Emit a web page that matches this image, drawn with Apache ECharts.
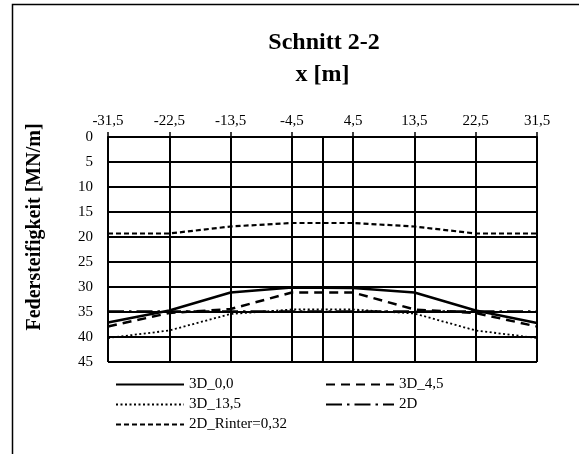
<!DOCTYPE html>
<html>
<head>
<meta charset="utf-8">
<script src="https://cdn.jsdelivr.net/npm/echarts@6/dist/echarts.min.js"></script>
<style>html,body{margin:0;padding:0;background:#fff;}#c{width:579px;height:454px;}</style>
</head>
<body>
<div id="c"></div>
<script>
var xs = [-31.5, -22.5, -13.5, -4.5, 4.5, 13.5, 22.5, 31.5];
var s3D_00 = [37.1, 34.7, 31.1, 30.1, 30.2, 31.1, 34.7, 37.2];
var s3D_45 = [37.9, 35.2, 34.4, 31.1, 31.1, 34.5, 35.2, 37.9];
var s3D_135 = [40.2, 38.7, 35.4, 34.5, 34.5, 35.3, 38.7, 40.2];
var s2D = [34.9, 34.9, 34.9, 34.9, 34.9, 34.9, 34.9, 34.9];
var s2D_R = [19.3, 19.3, 17.9, 17.2, 17.2, 17.9, 19.3, 19.3];
var names = ['3D_0,0', '3D_4,5', '3D_13,5', '2D', '2D_Rinter=0,32'];

var FONT = '"Liberation Serif", "Times New Roman", serif';
function pairs(v){ return xs.map(function(x,i){ return [x, v[i]]; }); }
function fmt(v){ return String(v).replace('.', ','); }

var styles = [
  {width: 2.5, type: 'solid'},
  {width: 2.5, type: [9, 6]},
  {width: 1.8, type: [2, 2.5]},
  {width: 2.5, type: [16, 5, 2.5, 5]},
  {width: 2.2, type: [5, 3]}
];
var vals = [s3D_00, s3D_45, s3D_135, s2D, s2D_R];

var series = vals.map(function(v, i){
  var s = {
    name: names[i], type: 'line', data: pairs(v), symbol: 'none', showSymbol: false,
    lineStyle: {color: '#000', width: styles[i].width, type: styles[i].type},
    itemStyle: {color: '#000'}, z: 5, animation: false
  };
  if (i === 0) {
    s.markLine = {silent: true, symbol: 'none', label: {show: false},
      lineStyle: {color: '#000', width: 2, type: 'solid'}, data: [{xAxis: 0}], animation: false};
  }
  return s;
});

var legPos = [[115, 377], [325, 377], [115, 397], [325, 397], [115, 417]];
var legends = names.map(function(n, i){
  return {data: [n], left: legPos[i][0], top: legPos[i][1], padding: 0,
    itemWidth: 68, itemHeight: 14, itemGap: 0,
    itemStyle: {opacity: 0},
    textStyle: {fontFamily: FONT, fontSize: 15, color: '#000', padding: [0,0,0,0]}};
});

var chart = echarts.init(document.getElementById('c'), null, {renderer: 'canvas'});
chart.setOption({
  animation: false,
  backgroundColor: '#fff',
  title: {text: 'Schnitt 2-2', left: 319, top: 26, textAlign: 'center',
    textStyle: {fontFamily: FONT, fontSize: 24, fontWeight: 'bold', color: '#000'}},
  legend: legends,
  grid: {left: 108, right: 42, top: 137, bottom: 92, containLabel: false},
  xAxis: {
    type: 'value', position: 'top', min: -31.5, max: 31.5, interval: 9,
    name: 'x [m]', nameLocation: 'middle', nameGap: 50,
    nameTextStyle: {fontFamily: FONT, fontSize: 24, fontWeight: 'bold', color: '#000'},
    axisLine: {show: true, onZero: false, lineStyle: {color: '#000', width: 2}},
    axisTick: {show: true, inside: false, length: 5, lineStyle: {color: '#000', width: 1.5}},
    axisLabel: {fontFamily: FONT, fontSize: 15, color: '#000', margin: 8, formatter: fmt},
    splitLine: {show: true, lineStyle: {color: '#000', width: 2}}
  },
  yAxis: {
    type: 'value', inverse: true, min: 0, max: 45, interval: 5,
    axisLine: {show: true, lineStyle: {color: '#000', width: 2}},
    axisTick: {show: true, inside: false, length: 5, lineStyle: {color: '#000', width: 1.5}},
    axisLabel: {fontFamily: FONT, fontSize: 15, color: '#000', margin: 15},
    splitLine: {show: true, lineStyle: {color: '#000', width: 2}}
  },
  graphic: [
    {type: 'rect', shape: {x: 12.5, y: 4.5, width: 700, height: 700}, style: {fill: 'none', stroke: '#000', lineWidth: 1.5}, silent: true, z: -1},
    {type: 'text', x: 35, y: 227, rotation: Math.PI / 2,
      style: {text: 'Federsteifigkeit [MN/m]', fontFamily: FONT, fontSize: 20, fontWeight: 'bold', fill: '#000',
        textAlign: 'center', textVerticalAlign: 'middle'}}
  ],
  series: series
});
</script>
</body>
</html>
